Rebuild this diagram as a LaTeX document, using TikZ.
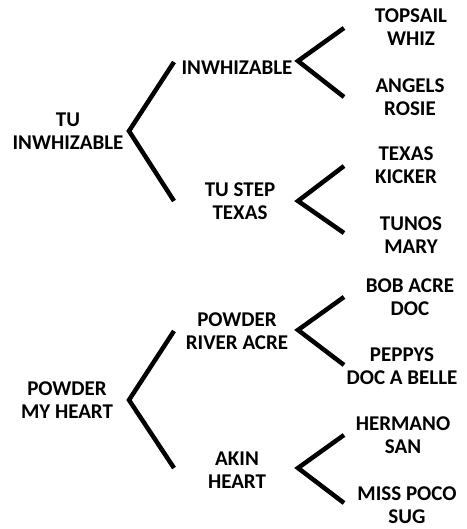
\documentclass[tikz,border=0pt]{standalone}
\usepackage{fontspec}
\setmainfont{Carlito}
\begin{document}
\begin{tikzpicture}[x=1pt,y=-1pt,
  horse/.style={font=\bfseries\fontsize{21}{23}\selectfont, align=center, inner sep=0pt},
  branch/.style={line width=4.5pt, line join=miter, line cap=butt}]
\useasboundingbox (0,0) rectangle (466,529);
% generation 1
\node[horse] (a) at (68,131) {TU\\INWHIZABLE};
\node[horse] (b) at (67,400) {POWDER\\MY HEART};
% generation 2
\node[horse] (aa) at (237,68) {INWHIZABLE};
\node[horse] (ab) at (240,201) {TU STEP\\TEXAS};
\node[horse] (ba) at (237,331) {POWDER\\RIVER ACRE};
\node[horse] (bb) at (237,470) {AKIN\\HEART};
% generation 3
\node[horse] (aaa) at (411,27) {TOPSAIL\\WHIZ};
\node[horse] (aab) at (410,97) {ANGELS\\ROSIE};
\node[horse] (aba) at (406,165) {TEXAS\\KICKER};
\node[horse] (abb) at (411,235) {TUNOS\\MARY};
\node[horse] (baa) at (410,297) {BOB ACRE\\DOC};
\node[horse] (bab) at (402,366) {PEPPYS\\DOC A BELLE};
\node[horse] (bba) at (403,435) {HERMANO\\SAN};
\node[horse] (bbb) at (407,505) {MISS POCO\\SUG};
% branch points
\coordinate (av) at (129,131);
\coordinate (au) at (174,62);
\coordinate (ad) at (174,201);
\coordinate (bv) at (129,400);
\coordinate (bu) at (174,331);
\coordinate (bd) at (174,468);
\coordinate (aav) at (298,61);
\coordinate (aau) at (344,28);
\coordinate (aad) at (344,97);
\coordinate (abv) at (298,201);
\coordinate (abu) at (344,166);
\coordinate (abd) at (344,233);
\coordinate (bav) at (298,330);
\coordinate (bau) at (344,297);
\coordinate (bad) at (344,365);
\coordinate (bbv) at (298,468);
\coordinate (bbu) at (344,435);
\coordinate (bbd) at (344,503);
\draw[branch] (au) -- (av) -- (ad);
\draw[branch] (bu) -- (bv) -- (bd);
\draw[branch] (aau) -- (aav) -- (aad);
\draw[branch] (abu) -- (abv) -- (abd);
\draw[branch] (bau) -- (bav) -- (bad);
\draw[branch] (bbu) -- (bbv) -- (bbd);
\end{tikzpicture}
\end{document}
